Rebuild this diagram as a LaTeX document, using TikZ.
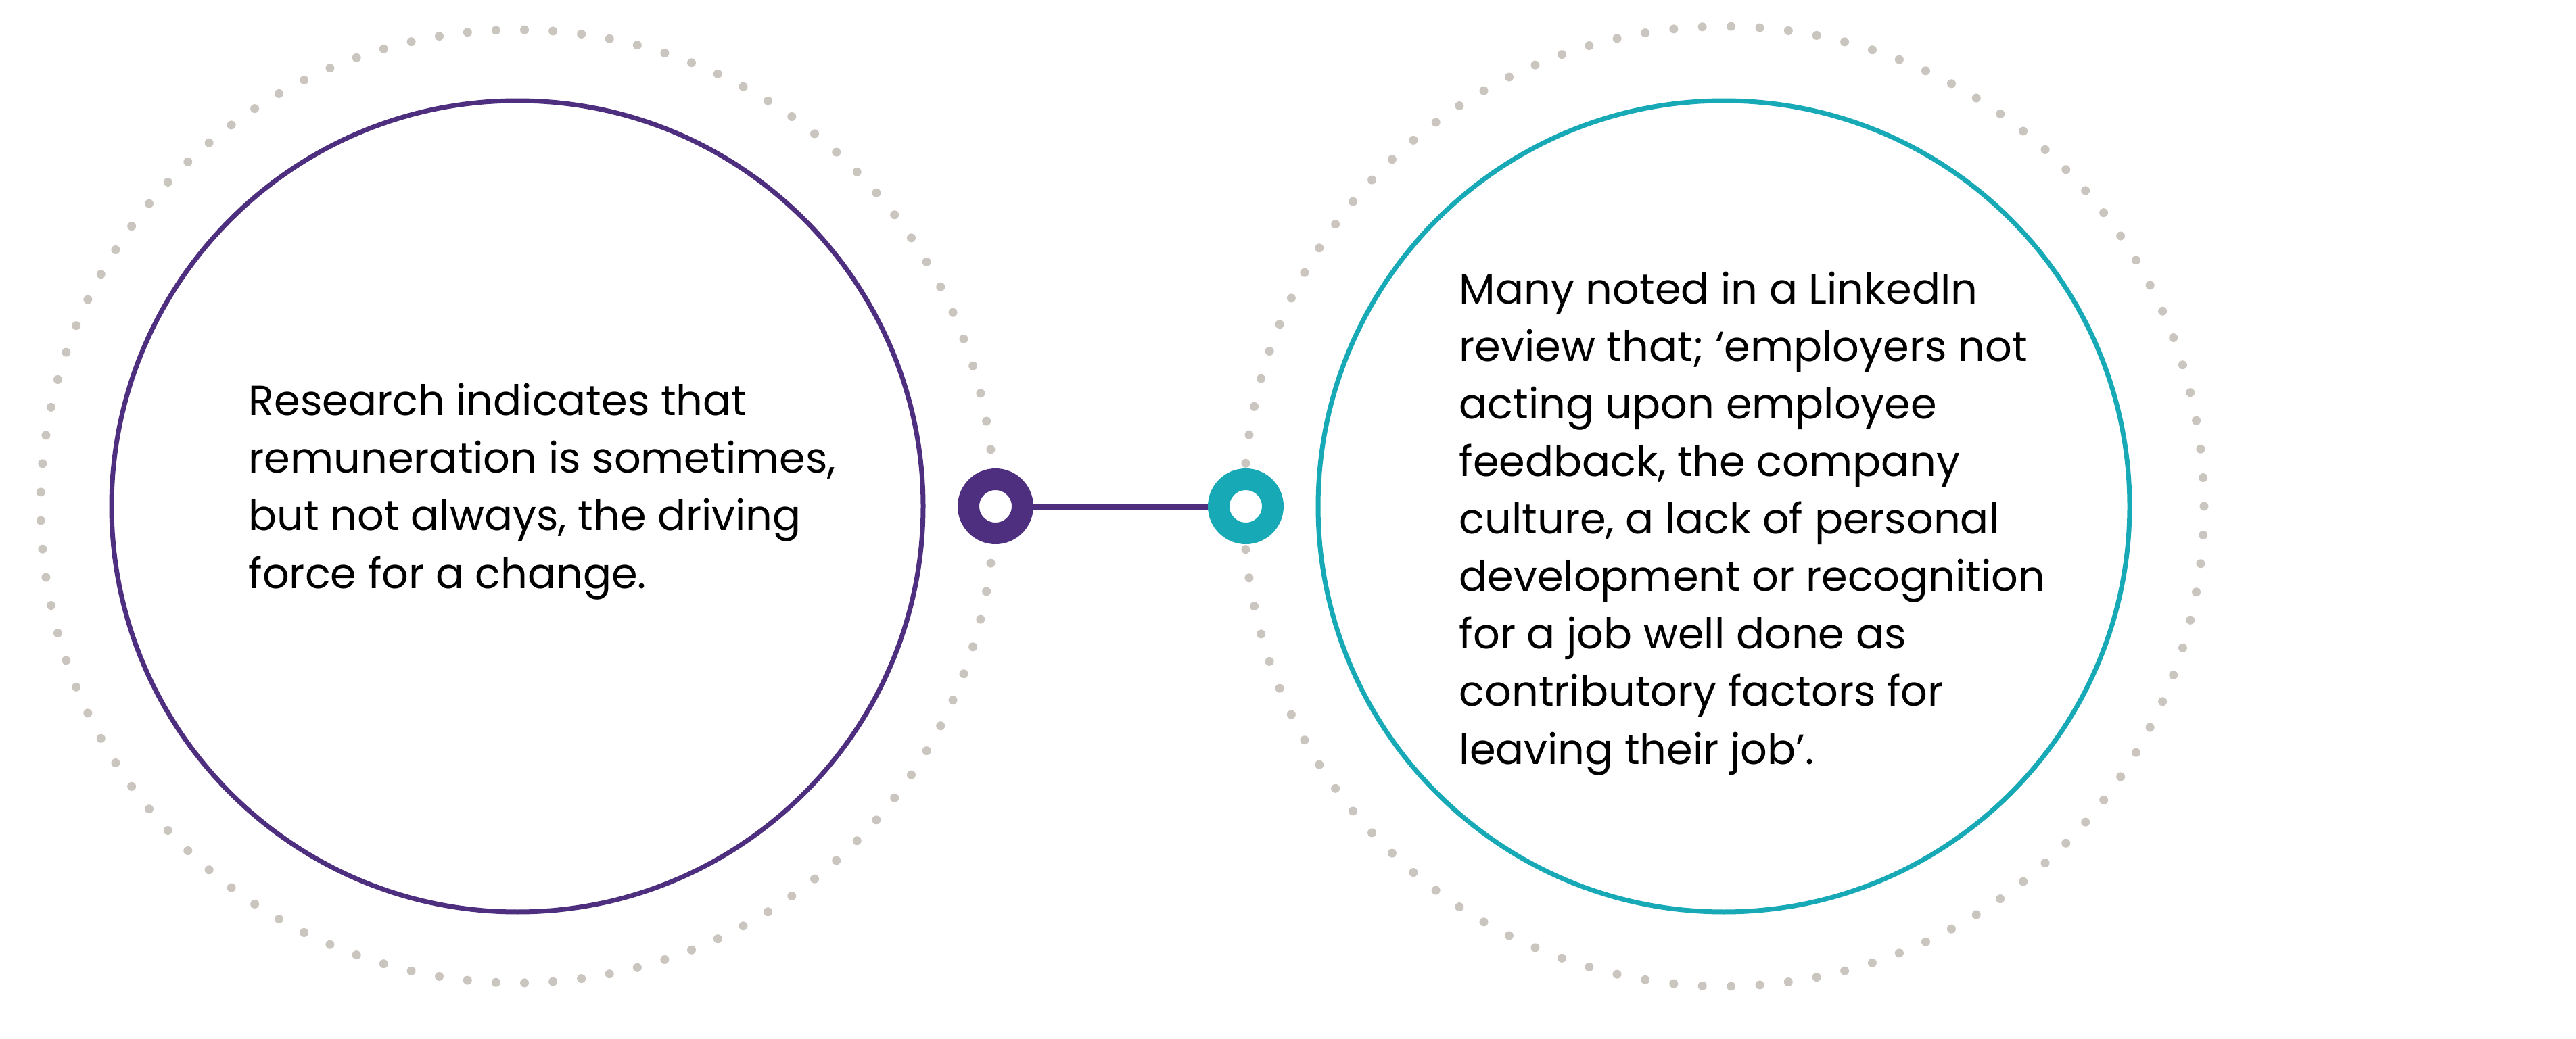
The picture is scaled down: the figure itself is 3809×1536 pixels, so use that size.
\documentclass[tikz,border=0pt]{standalone}
\usepackage{fontspec}
\setmainfont{Poppins}
\usepackage{tikz}
\definecolor{plum}{HTML}{4E2F7F}
\definecolor{aqua}{HTML}{17A9B5}
\definecolor{dotgrey}{HTML}{CBC5BF}

\begin{document}
\begin{tikzpicture}[x=0.1mm,y=0.1mm,
  bigring/.style={circle,draw,line width=0.7mm,minimum size=120mm,inner sep=0pt},
  knob/.style={circle,draw,line width=3.2mm,minimum size=8mm,inner sep=0pt,fill=white},
  blurb/.style={align=left,anchor=base west,inner sep=0pt,font=\fontsize{17.7pt}{24.2pt}\selectfont}]
  \useasboundingbox (0,0) rectangle (3809,1536);
  \node[bigring,draw=plum] (pay) at (765,787) {};
  \node[bigring,draw=aqua] (quit) at (2549,787) {};
  % dotted halos
  \foreach \c/\r in {pay/705,quit/710}
    \foreach \k in {0,...,104}
      \fill[dotgrey] (\c.center) ++({360/105*\k}:\r) circle (6.5);
  \node[knob,draw=plum] (payknob) at (1472,787) {};
  \node[knob,draw=aqua] (quitknob) at (1842,787) {};
  \draw[plum,line width=0.9mm] (payknob) -- (quitknob);
  % anchored at the baseline of the last line
  \node[blurb] (paytext) at (367,666) {Research indicates that\\remuneration is sometimes,\\but not always, the driving\\force for a change.};
  \node[blurb] (quittext) at (2157,406) {Many noted in a LinkedIn\\review that; ‘employers not\\acting upon employee\\feedback, the company\\culture, a lack of personal\\development or recognition\\for a job well done as\\contributory factors for\\leaving their job’.};
\end{tikzpicture}
\end{document}
